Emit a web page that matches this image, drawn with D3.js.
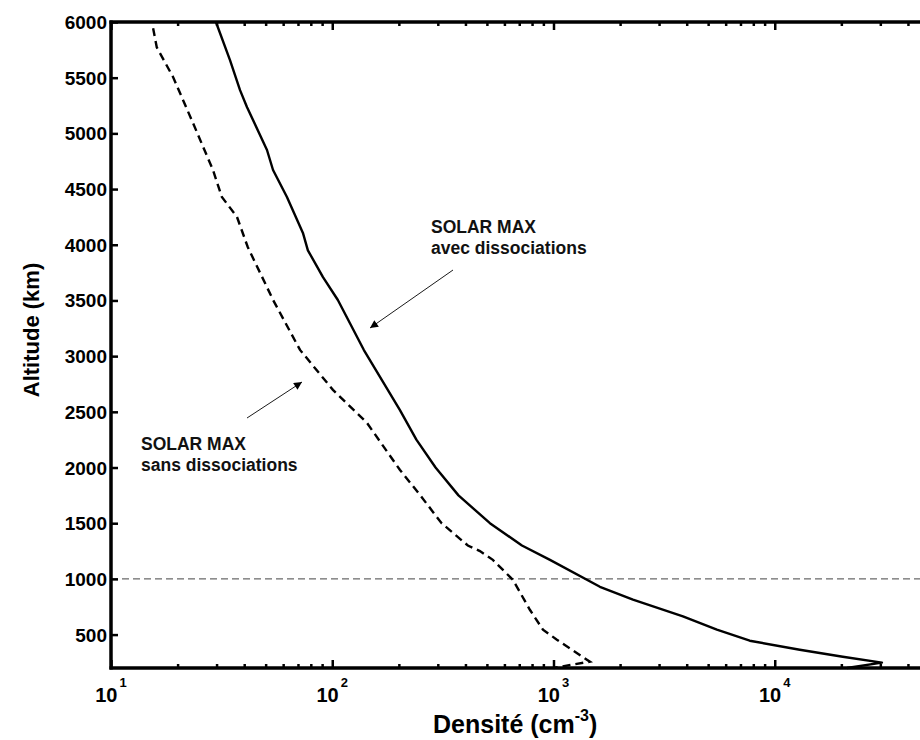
<!DOCTYPE html>
<html>
<head>
<meta charset="utf-8">
<script src="https://cdn.jsdelivr.net/npm/d3@7"></script>
<style>
  html, body { margin: 0; padding: 0; background: #fff; }
  svg { display: block; }
  text { font-family: Arial, "Liberation Sans", Helvetica, sans-serif; }
</style>
</head>
<body>
<svg id="chart" width="920" height="740"></svg>
<script>
// ---- data ----
const avecAlt = [6000, 5657, 5388, 5235, 4851, 4671, 4429, 4106, 3950, 3710, 3504, 3055, 2517, 2250, 2000, 1750, 1500, 1300, 1171, 929, 813, 663, 544, 445, 364, 301, 248, 200];
const avecDens = [29.8, 34.5, 38.3, 41.2, 50.7, 54.0, 62.4, 73.7, 77.6, 90.8, 106, 139, 202, 240, 293, 372, 516, 720, 964, 1621, 2286, 3846, 5475, 7709, 12970, 20300, 30500, 21200];

const sansAlt = [5944, 5773, 5504, 5091, 4671, 4429, 4250, 3980, 3505, 3056, 2697, 2401, 1980, 1750, 1500, 1300, 1250, 1171, 992, 723, 544, 454, 257, 200];
const sansDens = [15.5, 16.1, 19.1, 23.5, 28.9, 31.7, 37.1, 41.5, 54, 71.5, 100.7, 143.5, 202, 250, 312, 410, 465, 532, 655, 782, 896, 1036, 1460, 1000];

const yTicks = [500, 1000, 1500, 2000, 2500, 3000, 3500, 4000, 4500, 5000, 5500, 6000];
const xMajor = [10, 100, 1000, 10000];
const refAltitude = 1000;

const annotations = [
  { lines: ["SOLAR MAX", "avec dissociations"] },
  { lines: ["SOLAR MAX", "sans dissociations"] }
];

// ---- layout ----
const svg = d3.select("#chart");
const L = 111, T = 22, B = 668, R = 996;
const x = d3.scaleLog().domain([10, 1e5]).range([L, R]);
const y = d3.scaleLinear().domain([200, 6000]).range([B, T]);

// minor ticks
const minor = [];
for (let e = 1; e < 5; e++) for (let m = 2; m <= 9; m++) minor.push(m * Math.pow(10, e));

// reference dashed line
svg.append("line")
  .attr("x1", L).attr("x2", 920)
  .attr("y1", y(refAltitude)).attr("y2", y(refAltitude))
  .attr("stroke", "#444").attr("stroke-width", 1).attr("stroke-dasharray", "7,4");

// curves
const line = d3.line().x(d => x(d[0])).y(d => y(d[1]));
const avec = avecDens.map((d, i) => [d, avecAlt[i]]);
const sans = sansDens.map((d, i) => [d, sansAlt[i]]);
svg.append("path").attr("d", line(avec)).attr("fill", "none")
  .attr("stroke", "#000").attr("stroke-width", 2.4).attr("stroke-linejoin", "round");
svg.append("path").attr("d", line(sans)).attr("fill", "none")
  .attr("stroke", "#000").attr("stroke-width", 2.4).attr("stroke-dasharray", "8,5");

// axes
const gB = svg.append("g").attr("transform", `translate(0,${B})`)
  .call(d3.axisTop(x).tickValues(minor).tickSize(4).tickFormat(""));
const gB2 = svg.append("g").attr("transform", `translate(0,${B})`)
  .call(d3.axisTop(x).tickValues(xMajor).tickSize(8).tickFormat(""));
const gT = svg.append("g").attr("transform", `translate(0,${T})`)
  .call(d3.axisBottom(x).tickValues(minor).tickSize(4).tickFormat(""));
const gT2 = svg.append("g").attr("transform", `translate(0,${T})`)
  .call(d3.axisBottom(x).tickValues(xMajor).tickSize(8).tickFormat(""));
const gL = svg.append("g").attr("transform", `translate(${L},0)`)
  .call(d3.axisRight(y).tickValues(yTicks).tickSize(7).tickFormat(""));
[gB, gB2, gT, gT2, gL].forEach(g => {
  g.select(".domain").remove();
  g.selectAll(".tick line").attr("stroke", "#000").attr("stroke-width", 2.5);
});

// frame
svg.append("line").attr("x1", L - 1.5).attr("x2", 920).attr("y1", B).attr("y2", B)
  .attr("stroke", "#000").attr("stroke-width", 3.5);
svg.append("line").attr("x1", L - 1.5).attr("x2", 920).attr("y1", T).attr("y2", T)
  .attr("stroke", "#000").attr("stroke-width", 3.5);
svg.append("line").attr("x1", L).attr("x2", L).attr("y1", T - 1.5).attr("y2", B + 1.5)
  .attr("stroke", "#000").attr("stroke-width", 3.5);

// y tick labels
svg.append("g").selectAll("text").data(yTicks).join("text")
  .attr("x", L - 4).attr("y", d => y(d) + 7)
  .attr("text-anchor", "end").attr("font-size", 19).attr("font-weight", "bold")
  .text(d => d);

// x tick labels
const xl = svg.append("g").selectAll("text").data(xMajor).join("text")
  .attr("x", d => x(d)).attr("y", 702)
  .attr("text-anchor", "middle").attr("font-size", 20).attr("font-weight", "bold");
xl.append("tspan").text("10");
xl.append("tspan").attr("dy", -15).attr("dx", 2).attr("font-size", 13)
  .text(d => Math.round(Math.log10(d)));

// axis titles
const xt = svg.append("text").attr("x", 433).attr("y", 733)
  .attr("font-size", 25).attr("font-weight", "bold");
xt.append("tspan").text("Densité (cm");
xt.append("tspan").attr("dy", -12).attr("font-size", 16).text("-3");
xt.append("tspan").attr("dy", 12).text(")");

svg.append("text")
  .attr("transform", "translate(39,330) rotate(-90)")
  .attr("text-anchor", "middle").attr("font-size", 22).attr("font-weight", "bold")
  .text("Altitude (km)");

// annotations
const defs = svg.append("defs");
defs.append("marker").attr("id", "arr").attr("viewBox", "0 0 10 10")
  .attr("refX", 10).attr("refY", 5).attr("markerWidth", 10).attr("markerHeight", 8)
  .attr("markerUnits", "userSpaceOnUse").attr("orient", "auto")
  .append("path").attr("d", "M0,0 L10,5 L0,10 Z").attr("fill", "#000");

function annot(a, tx, ty, ax1, ay1, ax2, ay2) {
  const t = svg.append("text").attr("x", tx).attr("y", ty)
    .attr("font-size", 17.5).attr("font-weight", "bold").attr("fill", "#111");
  a.lines.forEach((s, i) => t.append("tspan").attr("x", tx).attr("dy", i ? 21 : 0).text(s));
  svg.append("line").attr("x1", ax1).attr("y1", ay1).attr("x2", ax2).attr("y2", ay2)
    .attr("stroke", "#000").attr("stroke-width", 0.9).attr("marker-end", "url(#arr)");
}
annot(annotations[0], 431, 233, 453, 270, 370, 328);
annot(annotations[1], 141, 450, 247, 418, 302, 382);
</script>
</body>
</html>
